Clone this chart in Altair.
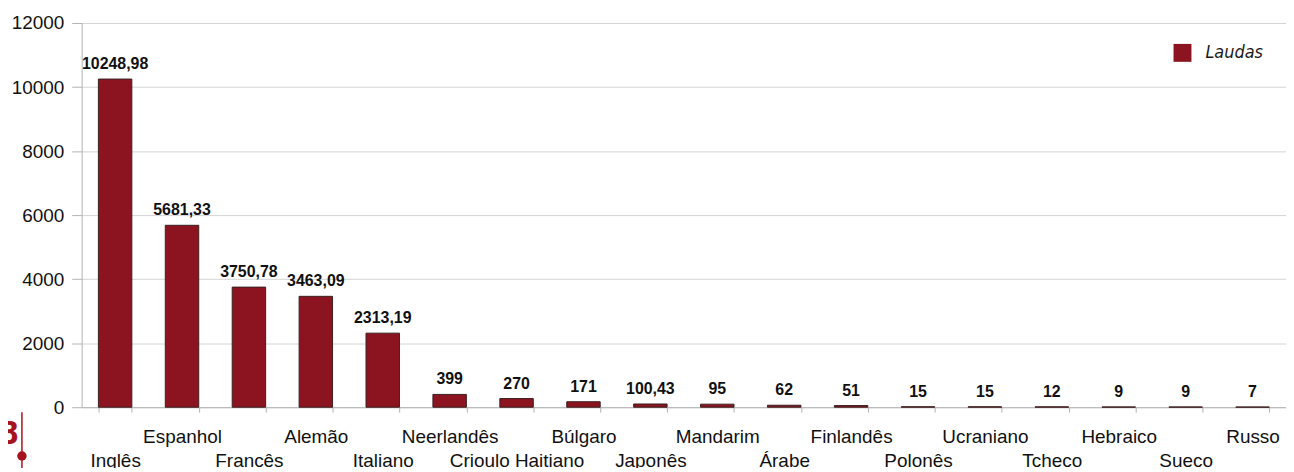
import altair as alt
import pandas as pd

languages = ["Inglês", "Espanhol", "Francês", "Alemão", "Italiano", "Neerlandês",
             "Crioulo Haitiano", "Búlgaro", "Japonês", "Mandarim", "Árabe", "Finlandês",
             "Polonês", "Ucraniano", "Tcheco", "Hebraico", "Sueco", "Russo"]
laudas = [10248.98, 5681.33, 3750.78, 3463.09, 2313.19, 399, 270, 171, 100.43,
          95, 62, 51, 15, 15, 12, 9, 9, 7]
labels = [("%.2f" % v).replace(".", ",") if v != int(v) else str(int(v)) for v in laudas]
series = "Laudas"
y_ticks = [0, 2000, 4000, 6000, 8000, 10000, 12000]

df = pd.DataFrame({"lang": languages, "val": laudas, "lbl": labels, "series": series})

FONT = "Liberation Sans"
NARROW = "'Liberation Sans Narrow', 'DejaVu Sans Condensed', 'Open Sans', sans-serif"
BAR = "#8b1420"
RED = "#a5141d"

x_enc = alt.X("lang:N", sort=languages, title=None,
              scale=alt.Scale(paddingInner=0.5, paddingOuter=0.25),
              axis=alt.Axis(labelAngle=0, tickBand="extent", tickSize=5,
                            tickColor="#b3b3b3", domainColor="#b3b3b3",
                            labelFont=FONT, labelFontSize=19, labelColor="#111111",
                            labelBaseline="top", labelPadding=15,
                            labelLineHeight=25, labelOverlap=False,
                            labelExpr="round(datum.index*17) % 2 == 0 ? ['', datum.label] : datum.label",
                            grid=False))
y_enc = alt.Y("val:Q", title=None,
              scale=alt.Scale(domain=[0, 12000], nice=False),
              axis=alt.Axis(values=y_ticks, format="d", tickSize=10, tickColor="#b3b3b3",
                            domainColor="#b3b3b3", gridColor="#d4d4d4",
                            labelFont=FONT, labelFontSize=19, labelColor="#111111",
                            labelPadding=8))

bars = alt.Chart(df).mark_bar(stroke="#3a2020", strokeWidth=1).encode(
    x=x_enc, y=y_enc,
    color=alt.Color("series:N", title=None,
                    scale=alt.Scale(range=[BAR]),
                    legend=alt.Legend(orient="none", legendX=1097, legendY=21,
                                      symbolType="square", symbolSize=324,
                                      symbolStrokeWidth=0, symbolOpacity=1,
                                      labelFont=NARROW,
                                      labelFontStyle="italic", labelFontSize=18,
                                      labelColor="#1a1a1a", labelOffset=14)),
)

texts = alt.Chart(df).mark_text(baseline="bottom", dy=-7, font=FONT,
                                fontSize=16, fontWeight="bold", color="#111111").encode(
    x=alt.X("lang:N", sort=languages), y="val:Q", text="lbl:N")

page_num = alt.Chart(pd.DataFrame({"t": ["8"]})).mark_text(
    align="right", baseline="alphabetic", font=NARROW,
    fontSize=32, fontWeight="bold", color=RED).encode(
    x=alt.value(-63), y=alt.value(423), text="t:N")

vline = alt.Chart(pd.DataFrame({"a": [0]})).mark_rule(color=RED, strokeWidth=1.5).encode(
    x=alt.value(-60), y=alt.value(391), y2=alt.value(452))

dot = alt.Chart(pd.DataFrame({"a": [0]})).mark_circle(color=RED, opacity=1, size=90).encode(
    x=alt.value(-60), y=alt.value(435))

chart = alt.layer(bars, texts, page_num, vline, dot).properties(
    width=1210, height=386,
    padding={"left": 74, "top": 14, "right": 0, "bottom": 60},
    autosize=alt.AutoSizeParams(type="none"),
).configure_view(stroke=None).configure_axis(gridWidth=1)

chart.save("out.html", embed_options={"renderer": "svg", "actions": False})
